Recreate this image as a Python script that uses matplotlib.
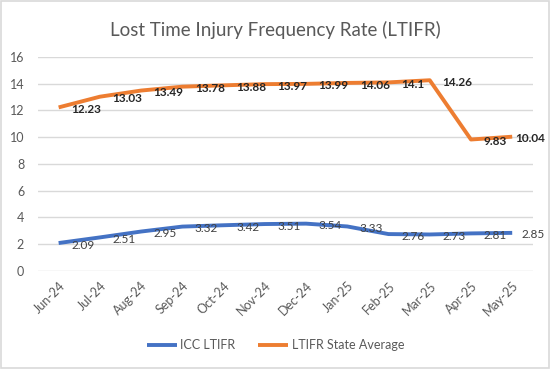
import matplotlib
matplotlib.use("Agg")
import matplotlib.pyplot as plt
from matplotlib.patches import Rectangle

# Data
months = ["Jun-24", "Jul-24", "Aug-24", "Sep-24", "Oct-24", "Nov-24",
          "Dec-24", "Jan-25", "Feb-25", "Mar-25", "Apr-25", "May-25"]
icc_ltifr = [2.09, 2.51, 2.95, 3.32, 3.42, 3.51, 3.54, 3.33, 2.76, 2.73, 2.81, 2.85]
state_avg = [12.23, 13.03, 13.49, 13.78, 13.88, 13.97, 13.99, 14.06, 14.1, 14.26, 9.83, 10.04]
y_ticks = [0, 2, 4, 6, 8, 10, 12, 14, 16]

BLUE = "#4472C4"
ORANGE = "#ED7D31"
GREY = "#595959"

plt.rcParams["font.family"] = ["Lato", "DejaVu Sans"]

fig = plt.figure(figsize=(5.51, 3.69), dpi=100)
fig.patch.set_facecolor("white")
fig.patches.append(Rectangle((0.002, 0.004), 0.994, 0.992, transform=fig.transFigure,
                             fill=False, edgecolor="#D9D9D9", linewidth=1.2))

ax = fig.add_axes([0.069, 0.2656, 0.898, 0.58])
x = list(range(len(months)))

ax.plot(x, icc_ltifr, color=BLUE, linewidth=2.8, solid_capstyle="butt",
        solid_joinstyle="round", label="ICC LTIFR", zorder=3)
ax.plot(x, state_avg, color=ORANGE, linewidth=2.8, solid_capstyle="butt",
        solid_joinstyle="round", label="LTIFR State Average", zorder=3)

# data labels to the right of each point (last ones squeezed in like Excel does)
last = len(months) - 1
for xi, v in zip(x, icc_ltifr):
    dx = 7 if xi == last else 9
    ax.annotate(f"{v:g}", (xi, v), xytext=(dx, -1.5), textcoords="offset points",
                ha="left", va="center", fontsize=8.5, color="#404040", zorder=4)
for xi, v in zip(x, state_avg):
    dx = 2 if xi == last else 9
    ax.annotate(f"{v:g}", (xi, v), xytext=(dx, -1.5), textcoords="offset points",
                ha="left", va="center", fontsize=8.5, color="#262626",
                fontweight="bold", zorder=4)

ax.set_xlim(-0.5, len(months) - 0.5)
ax.set_ylim(0, 16)
ax.set_yticks(y_ticks)
ax.set_xticks(x)
ax.set_xticklabels(months, rotation=45, ha="right", rotation_mode="anchor")
ax.tick_params(axis="both", length=0, colors=GREY, labelsize=9)
ax.tick_params(axis="x", pad=6)
ax.tick_params(axis="y", pad=10)
ax.grid(axis="y", color="#D9D9D9", linewidth=1)
ax.set_axisbelow(True)
for s in ax.spines.values():
    s.set_visible(False)

fig.text(0.5, 0.918, "Lost Time Injury Frequency Rate (LTIFR)", ha="center", va="center",
         fontsize=13.5, color=GREY)

fig.legend(loc="center", bbox_to_anchor=(0.5, 0.065), ncol=2, frameon=False,
           fontsize=9, labelcolor=GREY, handlelength=2.4, columnspacing=1.8,
           handletextpad=0.3)

fig.savefig("out.png", dpi=100)
